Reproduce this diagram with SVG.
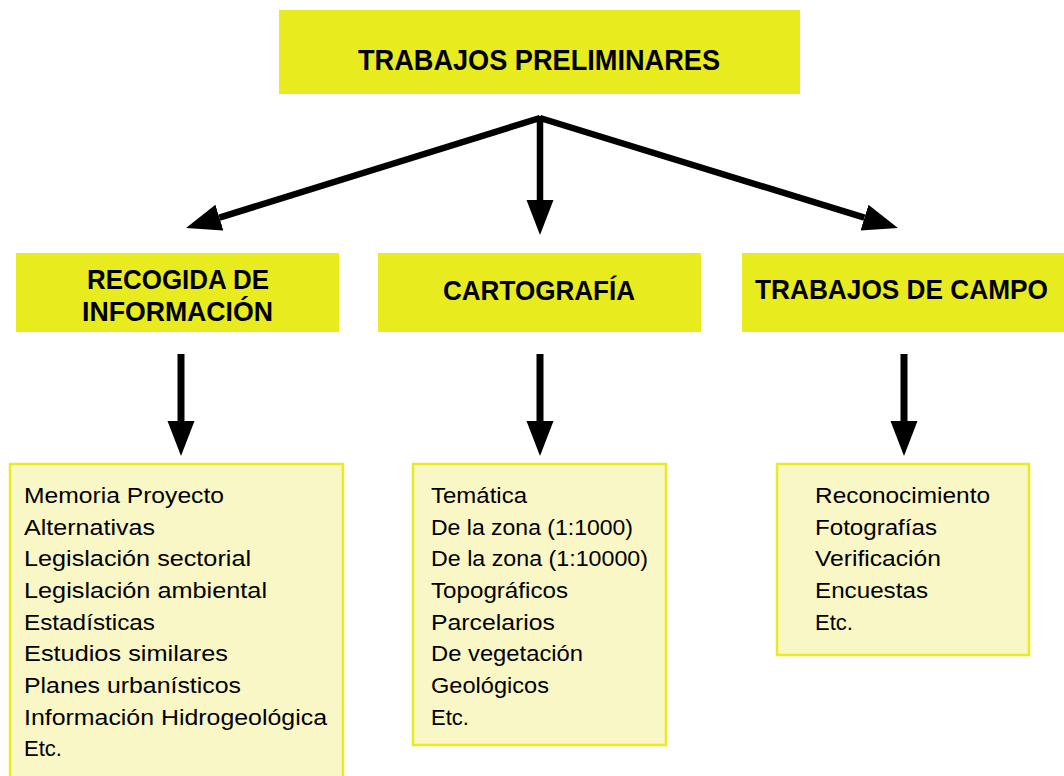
<svg xmlns="http://www.w3.org/2000/svg" width="1064" height="776" viewBox="0 0 1064 776">
<style>
.hdr{fill:#e8eb1e}
.lst{fill:#f9f7c6;stroke:#e8eb1e;stroke-width:2.5}
.ht{font-family:"Liberation Sans",Arial,sans-serif;font-weight:bold;fill:#000}
.bt{font-family:"Liberation Sans",Arial,sans-serif;font-size:22px;fill:#000}
.conn line{stroke:#000;stroke-width:6.5;fill:none}
.conn line.v{stroke-width:7}
</style>
<defs>
<marker id="ah" markerUnits="userSpaceOnUse" markerWidth="36" markerHeight="28" refX="0" refY="13.5" orient="auto" viewBox="0 0 36 28">
<path d="M0,0 L35,13.5 L0,27 z" fill="#000"/>
</marker>
</defs>
<rect width="1064" height="776" fill="#fff"/>

<g id="node-top">
<rect class="hdr" x="279" y="10" width="521" height="84"/>
<text class="ht" x="358" y="70" font-size="30" textLength="362" lengthAdjust="spacingAndGlyphs">TRABAJOS PRELIMINARES</text>
</g>

<g id="node-recogida">
<rect class="hdr" x="16" y="253" width="323" height="79"/>
<text class="ht" x="87" y="289" font-size="28" textLength="182" lengthAdjust="spacingAndGlyphs">RECOGIDA DE</text>
<text class="ht" x="82" y="321" font-size="28" textLength="191" lengthAdjust="spacingAndGlyphs">INFORMACIÓN</text>
</g>

<g id="node-cartografia">
<rect class="hdr" x="378" y="253" width="323" height="79"/>
<text class="ht" x="443" y="300" font-size="28" textLength="192" lengthAdjust="spacingAndGlyphs">CARTOGRAFÍA</text>
</g>

<g id="node-campo">
<rect class="hdr" x="742" y="253" width="322" height="79"/>
<text class="ht" x="755" y="299" font-size="28" textLength="293" lengthAdjust="spacingAndGlyphs">TRABAJOS DE CAMPO</text>
</g>

<g id="list-recogida">
<rect class="lst" x="10" y="464" width="333" height="320"/>
<text class="bt" x="24" y="503" textLength="200" lengthAdjust="spacingAndGlyphs">Memoria Proyecto</text>
<text class="bt" x="24" y="534.7" textLength="131" lengthAdjust="spacingAndGlyphs">Alternativas</text>
<text class="bt" x="24" y="566.3" textLength="227" lengthAdjust="spacingAndGlyphs">Legislación sectorial</text>
<text class="bt" x="24" y="598" textLength="243" lengthAdjust="spacingAndGlyphs">Legislación ambiental</text>
<text class="bt" x="24" y="629.7" textLength="131" lengthAdjust="spacingAndGlyphs">Estadísticas</text>
<text class="bt" x="24" y="661.3" textLength="204" lengthAdjust="spacingAndGlyphs">Estudios similares</text>
<text class="bt" x="24" y="693" textLength="217" lengthAdjust="spacingAndGlyphs">Planes urbanísticos</text>
<text class="bt" x="24" y="724.7" textLength="303" lengthAdjust="spacingAndGlyphs">Información Hidrogeológica</text>
<text class="bt" x="24" y="756.3">Etc.</text>
</g>

<g id="list-cartografia">
<rect class="lst" x="413" y="464" width="253" height="281"/>
<text class="bt" x="431" y="503" textLength="96" lengthAdjust="spacingAndGlyphs">Temática</text>
<text class="bt" x="431" y="534.7" textLength="202" lengthAdjust="spacingAndGlyphs">De la zona (1:1000)</text>
<text class="bt" x="431" y="566.3" textLength="217" lengthAdjust="spacingAndGlyphs">De la zona (1:10000)</text>
<text class="bt" x="431" y="598" textLength="137" lengthAdjust="spacingAndGlyphs">Topográficos</text>
<text class="bt" x="431" y="629.7" textLength="124" lengthAdjust="spacingAndGlyphs">Parcelarios</text>
<text class="bt" x="431" y="661.3" textLength="152" lengthAdjust="spacingAndGlyphs">De vegetación</text>
<text class="bt" x="431" y="693" textLength="118" lengthAdjust="spacingAndGlyphs">Geológicos</text>
<text class="bt" x="431" y="724.7">Etc.</text>
</g>

<g id="list-campo">
<rect class="lst" x="777" y="464" width="252" height="191"/>
<text class="bt" x="815" y="503" textLength="175" lengthAdjust="spacingAndGlyphs">Reconocimiento</text>
<text class="bt" x="815" y="534.7" textLength="122" lengthAdjust="spacingAndGlyphs">Fotografías</text>
<text class="bt" x="815" y="566.3" textLength="126" lengthAdjust="spacingAndGlyphs">Verificación</text>
<text class="bt" x="815" y="598" textLength="113" lengthAdjust="spacingAndGlyphs">Encuestas</text>
<text class="bt" x="815" y="629.7">Etc.</text>
</g>

<g id="connectors" class="conn">
<line x1="540" y1="118" x2="219.4" y2="217.6" marker-end="url(#ah)"/>
<line x1="540" y1="116" x2="540" y2="200" marker-end="url(#ah)"/>
<line x1="540" y1="118" x2="864.5" y2="217.7" marker-end="url(#ah)"/>
<line class="v" x1="181" y1="354" x2="181" y2="421" marker-end="url(#ah)"/>
<line class="v" x1="540" y1="354" x2="540" y2="421" marker-end="url(#ah)"/>
<line class="v" x1="904" y1="354" x2="904" y2="421" marker-end="url(#ah)"/>
</g>
</svg>
